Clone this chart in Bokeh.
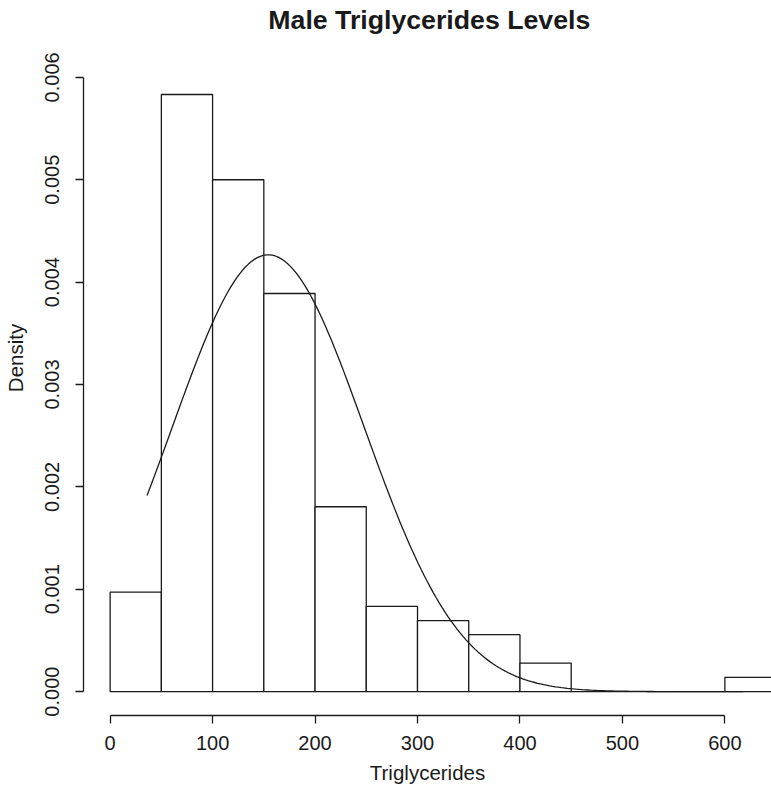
import numpy as np
from bokeh.plotting import figure
from bokeh.models import Range1d, FixedTicker, PrintfTickFormatter, Label
from bokeh.embed import file_html
from bokeh.resources import INLINE

# Histogram bins (width 50) and their densities
bin_left = [0, 50, 100, 150, 200, 250, 300, 350, 400, 450, 500, 550, 600]
bin_right = [50, 100, 150, 200, 250, 300, 350, 400, 450, 500, 550, 600, 650]
density = [0.000972, 0.005833, 0.005000, 0.003889, 0.001806, 0.000833,
           0.000694, 0.000556, 0.000278, 0.0, 0.0, 0.0, 0.000139]

# Fitted normal curve parameters
curve_mean = 154.3
curve_sd = 93.5
curve_from = 36
curve_to = 618

x_ticks = [0, 100, 200, 300, 400, 500, 600]
y_ticks = [0.000, 0.001, 0.002, 0.003, 0.004, 0.005, 0.006]

FONT = "Liberation Sans"
INK = "#1a1a1a"

# The frame reaches the top of the canvas so the title sits inside it
x_lo, x_hi = -26, 645.5
y_lo, y_hi = -0.000233, 0.006751

p = figure(width=771, height=788, output_backend="svg", toolbar_location=None,
           x_range=Range1d(x_lo, x_hi), y_range=Range1d(y_lo, y_hi),
           min_border_left=82, min_border_right=0, min_border_top=0,
           min_border_bottom=73, background_fill_color="white",
           border_fill_color="white", outline_line_color=None)
p.grid.visible = False

p.add_layout(Label(text="Male Triglycerides Levels",
                   x=311.5, y=0.006556,
                   text_align="center", text_baseline="alphabetic",
                   text_font=FONT, text_font_size="26.7px", text_font_style="bold",
                   text_color=INK))

p.quad(left=bin_left, right=bin_right, bottom=0, top=density,
       fill_color="white", line_color=INK, line_width=1.3)

xs = np.linspace(curve_from, curve_to, 201)
ys = np.exp(-0.5 * ((xs - curve_mean) / curve_sd) ** 2) / (curve_sd * np.sqrt(2 * np.pi))
p.line(xs, ys, line_color=INK, line_width=1.3)

xax = p.below[0]
yax = p.left[0]
for ax in (xax, yax):
    ax.axis_line_color = INK
    ax.axis_line_width = 1.3
    ax.major_tick_line_color = INK
    ax.major_tick_line_width = 1.3
    ax.major_tick_out = 8
    ax.major_tick_in = 0
    ax.minor_tick_line_color = None
    ax.major_label_text_font = FONT
    ax.major_label_text_font_size = "20px"
    ax.major_label_text_color = INK
    ax.axis_label_text_font = FONT
    ax.axis_label_text_font_size = "20.5px"
    ax.axis_label_text_font_style = "normal"
    ax.axis_label_text_color = INK

xax.ticker = FixedTicker(ticks=x_ticks)
xax.bounds = (0, 600)
xax.axis_label = "Triglycerides"
xax.major_label_standoff = 12
xax.axis_label_standoff = 8

yax.ticker = FixedTicker(ticks=y_ticks)
yax.bounds = (0, 0.006)
yax.formatter = PrintfTickFormatter(format="%.3f")
yax.major_label_orientation = "vertical"
yax.axis_label = "Density"
yax.major_label_standoff = 16
yax.axis_label_standoff = 16

open("out.html", "w").write(file_html(p, INLINE))
